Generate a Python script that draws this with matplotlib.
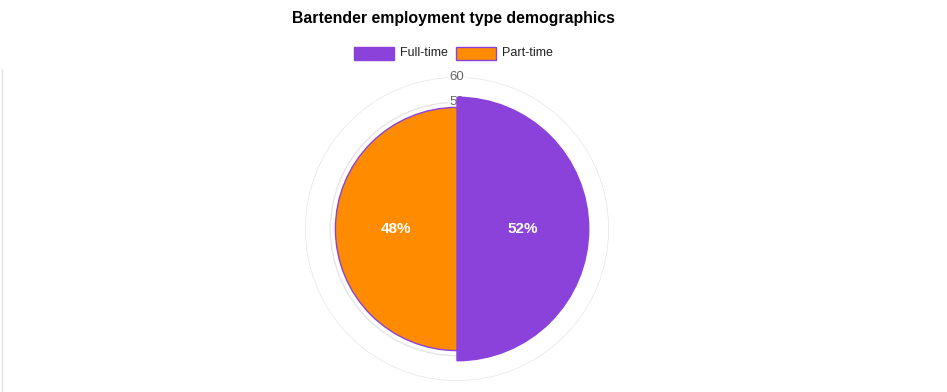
import numpy as np
import matplotlib
matplotlib.use("Agg")
import matplotlib.pyplot as plt
from matplotlib.lines import Line2D
from matplotlib.patches import Rectangle

plt.rcParams['font.family'] = ['Liberation Sans', 'DejaVu Sans']

# data
labels = ['Full-time', 'Part-time']
values = [52, 48]
colors = ['#8A42DB', '#FF8C00']
border = '#8A42DB'
r_ticks = [10, 20, 30, 40, 50, 60]

W, H = 947, 392
fig = plt.figure(figsize=(W / 100, H / 100), dpi=100)

# polar area chart, center ~ (457, 229), radius 152 px for 60
cx, cy, R = 457, 229, 152
ax = fig.add_axes([(cx - R) / W, (H - cy - R) / H, 2 * R / W, 2 * R / H],
                  projection='polar')
ax.set_theta_zero_location('N')
ax.set_theta_direction(-1)
ax.set_ylim(0, 60)
ax.set_axisbelow(True)

n = len(values)
width = 2 * np.pi / n
thetas = [width * i + width / 2 for i in range(n)]
ax.bar(thetas, values, width=width, color=colors, edgecolor=border,
       linewidth=1, zorder=3)

ax.set_xticks([])
ax.set_yticks(r_ticks)
ax.set_yticklabels([])
ax.grid(True, color='#e6e6e6', linewidth=1)
ax.xaxis.grid(False)
ax.spines['polar'].set_visible(False)

for r in r_ticks:
    ax.text(0, r, str(r), ha='center', va='center', fontsize=9.5,
            color='#666666', zorder=2,
            bbox=dict(boxstyle='square,pad=0.1', fc='white', ec='none', alpha=0.75))

total = sum(values)
for t, v in zip(thetas, values):
    ax.text(t, v / 2, f"{round(v / total * 100)}%", ha='center', va='center',
            fontsize=11, color='white', fontweight='bold', zorder=4)

# title
fig.text(453 / W, 1 - 18 / H, 'Bartender employment type demographics',
         ha='center', va='center', fontsize=11.4, fontweight='bold')

# legend
lx = [354, 456]
for x0, lab, c in zip(lx, labels, colors):
    fig.add_artist(Rectangle((x0 / W, 1 - 60 / H), 40 / W, 13 / H,
                             transform=fig.transFigure, fc=c, ec=border, lw=1))
    fig.text((x0 + 46) / W, 1 - 53.5 / H, lab, ha='left', va='center',
             fontsize=9, color='#222222')

# left container border
fig.add_artist(Line2D([1.5 / W, 1.5 / W], [0, 1 - 70 / H],
                      transform=fig.transFigure, color='#e2e2e2', lw=1))

fig.savefig('out.png', dpi=100)
